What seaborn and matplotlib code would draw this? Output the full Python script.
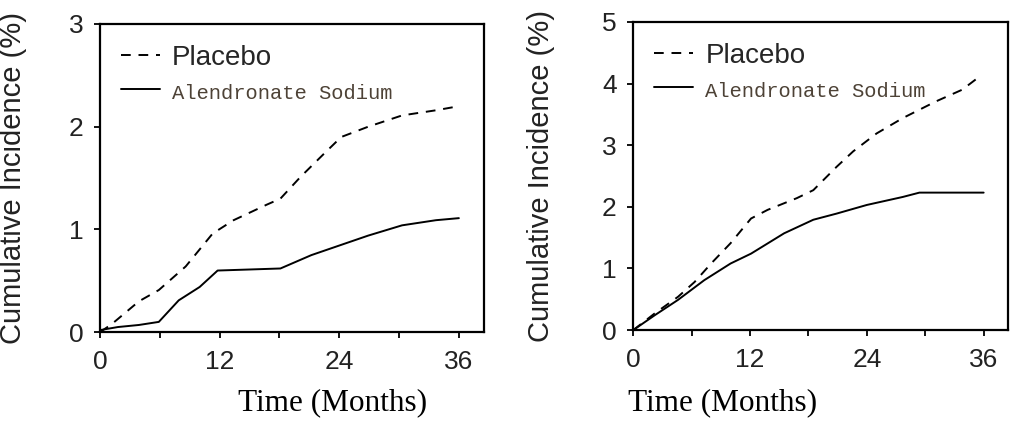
import matplotlib
matplotlib.use("Agg")
import matplotlib.pyplot as plt
import seaborn as sns
import pandas as pd

# left panel (y up to 3 %)
left_months_placebo = [0, 1.2, 3.9, 5.9, 8.6, 11.3, 13.4, 16.7, 18.1, 20.1, 22.5, 24.2, 26.9, 30.3, 33.7, 36]
left_placebo = [0.0, 0.08, 0.30, 0.41, 0.64, 0.96, 1.09, 1.24, 1.30, 1.51, 1.74, 1.90, 2.00, 2.11, 2.16, 2.20]
left_months_alen = [0, 1.8, 3.9, 5.9, 7.9, 10.0, 11.8, 18.1, 21.2, 24.2, 26.9, 30.3, 33.7, 36]
left_alen = [0.02, 0.05, 0.07, 0.10, 0.31, 0.44, 0.60, 0.62, 0.75, 0.85, 0.94, 1.04, 1.09, 1.11]

# right panel (y up to 5 %)
right_months_placebo = [0, 2.2, 4.6, 6.3, 8.0, 10.0, 12.1, 13.8, 16.8, 18.5, 20.9, 22.6, 25.0, 27.7, 31.1, 33.8, 35.8]
right_placebo = [0.0, 0.27, 0.54, 0.78, 1.08, 1.41, 1.81, 1.95, 2.14, 2.27, 2.65, 2.90, 3.19, 3.44, 3.71, 3.90, 4.14]
right_months_alen = [0, 2.2, 4.6, 7.3, 10.0, 12.1, 15.5, 18.5, 20.9, 24.0, 27.7, 29.4, 36.0]
right_alen = [0.0, 0.24, 0.49, 0.81, 1.08, 1.24, 1.57, 1.79, 1.89, 2.03, 2.16, 2.23, 2.23]

major_ticks = [0, 12, 24, 36]
minor_ticks = [6, 18, 30]

sns.set_theme(style="ticks")
plt.rcParams["font.family"] = ["Liberation Sans", "DejaVu Sans"]

fig = plt.figure(figsize=(10.1, 4.21), dpi=100)
ax1 = fig.add_axes([0.099, 0.211, 0.380, 0.732])
ax2 = fig.add_axes([0.627, 0.216, 0.371, 0.732])

panels = [
    (ax1, left_months_placebo, left_placebo, left_months_alen, left_alen, 3, -0.19),
    (ax2, right_months_placebo, right_placebo, right_months_alen, right_alen, 5, -0.208),
]

for ax, mp, yp, ma, ya, ymax, lab_x in panels:
    dp = pd.DataFrame({"month": mp, "inc": yp})
    da = pd.DataFrame({"month": ma, "inc": ya})
    sns.lineplot(data=dp, x="month", y="inc", ax=ax, color="black", lw=1.4,
                 linestyle=(0, (5, 4)), label="Placebo")
    sns.lineplot(data=da, x="month", y="inc", ax=ax, color="black", lw=1.4,
                 label="Alendronate Sodium")
    ax.set_xlim(0, 38.5)
    ax.set_ylim(0, ymax)
    ax.set_xticks(major_ticks)
    ax.set_xticks(minor_ticks, minor=True)
    ax.set_yticks(range(ymax + 1))
    ax.tick_params(axis="both", which="both", direction="out", length=4,
                   width=1.3, color="black", labelsize=19, labelcolor="#222222")
    ax.tick_params(axis="x", pad=9)
    ax.tick_params(axis="y", pad=8)
    for s in ax.spines.values():
        s.set_visible(True)
        s.set_linewidth(1.6)
        s.set_color("black")
    ax.set_xlabel("")
    ax.set_ylabel("Cumulative Incidence (%)", fontsize=21, color="#222222")
    ax.yaxis.set_label_coords(lab_x, 0.5)

    leg = ax.legend(loc="upper left", frameon=False, fontsize=20,
                    handlelength=1.4, handletextpad=0.45, labelspacing=0.3,
                    borderaxespad=0.35)
    t = leg.get_texts()[1]
    t.set_fontfamily("Liberation Mono")
    t.set_fontsize(14.8)
    t.set_color("#4d4236")

fig.text(0.329, 0.043, "Time (Months)", family="Liberation Serif", fontsize=22.5,
         ha="center", va="center", color="black")
fig.text(0.715, 0.043, "Time (Months)", family="Liberation Serif", fontsize=22.5,
         ha="center", va="center", color="black")

fig.savefig("out.png", dpi=100)
